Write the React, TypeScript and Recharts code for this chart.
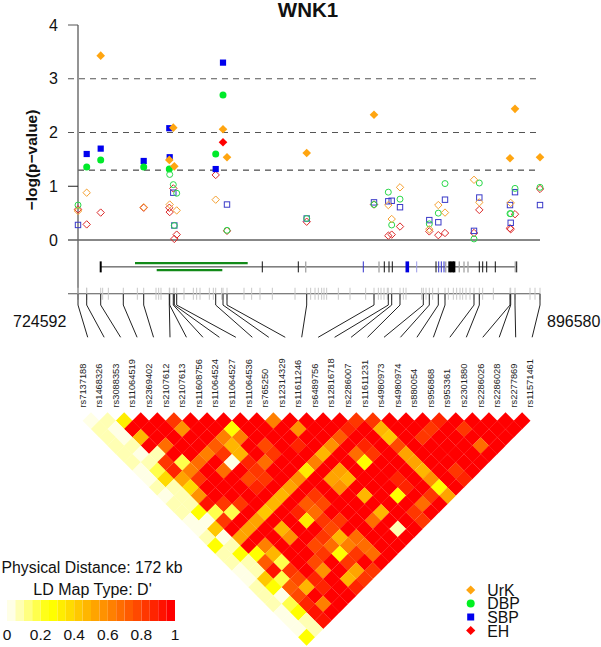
import React from 'react';
import { ScatterChart, Scatter, XAxis, YAxis, ReferenceLine, BarChart, Bar } from 'recharts';

const FONT = '"Liberation Sans", Arial, sans-serif';

const rsLabels = ['rs7137188','rs1468326','rs3088353','rs11064519','rs2369402','rs2107612','rs2107613','rs11608756','rs11064524','rs11064527','rs11064536','rs765250','rs12314329','rs11611246','rs6489756','rs12816718','rs2286007','rs11611231','rs4980973','rs4980974','rs880054','rs956868','rs953361','rs2301880','rs2286026','rs2286028','rs2277869','rs11571461'];
const snpBp = [724592,727831,733043,741456,749050,758580,758729,760069,760442,761335,775854,778571,780060,809730,834784,840108,841373,844463,853137,855371,858721,861215,872011,873984,885413,885673,887274,896580];

const urkValues = [0.54,0.88,3.43,null,0.61,1.49,0.66,2.09,1.37,0.55,0.75,2.06,1.54,1.62,2.33,0.65,0.39,0.98,null,0.2,0.65,0.51,1.12,0.7,1.52,0.69,2.44,1.54];
const dbpValues = [0.65,1.36,1.49,null,1.36,1.32,1.22,1.03,0.27,0.87,1.6,2.7,0.18,0.4,0.66,0.89,0.28,0.76,null,0.3,0.5,1.05,0.02,1.06,0.49,0.49,0.96,0.98];
const sbpValues = [0.28,1.6,1.7,null,1.47,2.08,1.54,0.88,0.27,null,1.32,3.3,0.66,0.4,0.7,0.72,0.73,0.61,null,0.37,0.33,0.75,0.17,0.79,0.65,0.32,0.89,0.65];
const ehValues = [0.57,0.29,0.51,null,0.6,0.6,0.52,0.96,0.02,0.1,1.21,1.82,0.17,0.34,0.66,0.08,0.1,0.25,null,0.16,0.09,0.13,0.13,0.56,0.22,0.2,0.48,0.95];

const SIGNIFICANT = 1.3;
const mapStartBp = 724592;
const mapEndBp = 896580;
const axisStubBp = 720869;
const yGridLines = [3, 2];
const yTickValues = [0, 1, 2, 3, 4];

const geneStartBp = 733043;
const geneEndBp = 887907;
const transcriptA = [745811, 787766];
const transcriptB = [753890, 778311];
const exonBlack = [793202,806603,838619,840368,841596,857865,873984,875250,876739,879941,887907];
const exonThick = [862816,863449,864193,864700,733043];
const exonGray = [809358,836645,861476,866539,868288,869777,887386];
const exonBlue = [830800,858870,859838,860843];
const exonPaleBlue = [850680];
const exonBlueThick = [847182];
const rugBp = [727818,733775,735884,746680,753629,754622,755490,764053,767527,768768,770009,773483,774973,778075,786389,789243,792345,796936,805375,811207,812820,814061,815302,816170,817163,821506,825849,831682,836397,837390,838507,839748,845704,846697,852529,854142,856624,862456,864317,865558,866799,867792,869033,870522,875237,879208,892858,894719];

// D' values under 1 for each LD row; row n holds pairs n+1 SNPs apart; keys = left SNP index.
const ldBelowOne: Record<number, number>[] = [
  {0:.03,1:.1,2:.28,5:.8,11:.6,16:.8,17:.8,21:.9},
  {0:.1,1:.03,5:.55,8:.22,12:.55,15:.9,17:.45,20:.8,22:.8},
  {0:.1,1:.06,2:.45,7:.6,8:.6,14:.72,17:.35,19:.8},
  {0:.1,1:.1,3:.65,6:.7,7:.4,9:.75,11:.9,13:.55,15:.9,17:.75,22:.65},
  {0:.1,1:.05,2:.1,5:.6,6:.8,7:.45,9:.85,12:.45,14:.65,15:.85,17:.5},
  {0:.1,1:.1,2:.8,3:.15,4:.65,6:.03,7:.9,8:.65,11:.6,14:.2,17:.5},
  {0:.05,1:.15,2:.9,3:.6,5:.65,7:.85,10:.25,12:.5,17:.4,19:.8},
  {0:.03,1:.3,2:.5,3:.8,6:.75,7:.85,9:.55,11:.5,12:.4,15:.9,17:.55,19:.9},
  {0:.1,1:.1,2:.3,6:.9,8:.5,11:.55,15:.9,17:.2},
  {0:.05,1:.1,2:.55,7:.45,9:.8,12:.4,14:.2,16:.85,17:.5},
  {0:.1,1:.1,2:.95,3:.85,4:.85,6:.4,8:.7,9:.75,15:.65},
  {0:.1,1:.2,2:.15,3:.15,5:.35,7:.9,8:.65,12:.4,14:.8},
  {0:.06,1:.05,2:.85,4:.5,7:.25,8:.85,9:.8,11:.65,14:.85},
  {0:.05,1:.35,3:.5,5:.4,8:.75,12:.1},
  {0:.1,1:.08,2:.5,5:.55,7:.8,8:.4,9:.65},
  {0:.2,1:.1,3:.6,6:.75,7:.65,8:.6,9:.65},
  {0:.1,1:.2,2:.2,3:.45,6:.85,7:.22,8:.85,9:.65},
  {0:.1,1:.1,2:.7,3:.15,5:.75,7:.85},
  {0:.08,1:.1,2:.95,3:.8,5:.55,7:.5,8:.8},
  {0:.08,1:.35,2:.15,3:.75,4:.9,6:.4,7:.85},
  {0:.1,1:.2,2:.7,3:.4,4:.9,6:.9},
  {0:.1,1:.03,2:.75},
  {0:.1,1:.15,2:.9,3:.6},
  {0:.08,1:.2,2:.95},
  {0:.08,1:.1,2:.95},
  {0:.08,1:.1},
  {0:.22},
];

const legendTicks = [0, 0.2, 0.4, 0.6, 0.8, 1];
const legendLevels = Array.from({ length: 20 }, (_, i) => i);
const traitNames = ['UrK', 'DBP', 'SBP', 'EH'];

function levelColor(level: number) {
  if (level < 5) {
    const s = 0.1 + 0.2 * level;
    const b = Math.round(255 * (1 - s));
    return `rgb(255,255,${b})`;
  }
  const g = Math.round((255 * (19 - level)) / 14);
  return `rgb(255,${g},0)`;
}
function ldColor(v: number) {
  if (v >= 1) return levelColor(19);
  if (v < 0.2) return levelColor(v < 0.09 ? 0 : v <= 0.1 ? 1 : v <= 0.15 ? 3 : 4);
  return levelColor(Math.min(19, Math.round(5 + ((v - 0.2) / 0.8) * 14)));
}

const ldCells = ldBelowOne.flatMap((row, depth) =>
  Array.from({ length: 27 - depth }, (_, i) => {
    const v = row[i] === undefined ? 1 : row[i];
    return { pos: i + (depth + 1) / 2, depth, v };
  })
);

const toPoints = (values: (number | null)[]) =>
  values.flatMap((v, i) => (v === null ? [] : [{ bp: snpBp[i], y: v }]));
const rugPoints = (list: number[], y: number) => list.map((bp) => ({ bp, y }));

const GOLD = '#ffa510';
const GREEN = '#00ea2a';
const BLUE = '#0000ee';
const RED = '#ff0000';

function Diamond({ cx, cy, r, fill, stroke }: any) {
  return <polygon points={`${cx},${cy - r} ${cx + r},${cy} ${cx},${cy + r} ${cx - r},${cy}`} fill={fill} stroke={stroke} strokeWidth={stroke === 'none' ? 0 : 1} />;
}
const urkShape = (p: any) => p.payload.y >= SIGNIFICANT
  ? <Diamond cx={p.cx} cy={p.cy} r={4.3} fill={GOLD} stroke="none" />
  : <Diamond cx={p.cx} cy={p.cy} r={3.7} fill="none" stroke="#f5a030" />;
const ehShape = (p: any) => p.payload.y >= SIGNIFICANT
  ? <Diamond cx={p.cx} cy={p.cy} r={4.3} fill={RED} stroke="none" />
  : <Diamond cx={p.cx} cy={p.cy} r={3.7} fill="none" stroke="#dc2a2a" />;
const dbpShape = (p: any) => p.payload.y >= SIGNIFICANT
  ? <circle cx={p.cx} cy={p.cy} r={3.5} fill={GREEN} />
  : <circle cx={p.cx} cy={p.cy} r={3} fill="none" stroke="#2bd84a" strokeWidth={1} />;
const sbpShape = (p: any) => p.payload.y >= SIGNIFICANT
  ? <rect x={p.cx - 3.1} y={p.cy - 3.1} width={6.2} height={6.2} fill={BLUE} />
  : <rect x={p.cx - 2.7} y={p.cy - 2.7} width={5.4} height={5.4} fill="none" stroke="#3a3ac8" strokeWidth={1} />;

const tick = (color: string, half: number, width: number) => (p: any) => (
  <line x1={p.cx} x2={p.cx} y1={p.cy - half} y2={p.cy + half} stroke={color} strokeWidth={width} />
);
const cellShape = (p: any) => (
  <polygon
    points={`${p.cx},${p.cy - 8.45} ${p.cx + 8.4},${p.cy} ${p.cx},${p.cy + 8.45} ${p.cx - 8.4},${p.cy}`}
    fill={ldColor(p.payload.v)}
  />
);

const ELBOW = -1.21;
const LABEL_END = -1.81;
const slotBp = (i: number) => 728203 + 6128 * i;

const box = (top: number, left = 0): React.CSSProperties => ({ position: 'absolute', top, left });

function TopPanel() {
  return (
    <ScatterChart width={601} height={345} margin={{ top: 25, right: 61, bottom: 2.875, left: 0 }}>
      <XAxis type="number" dataKey="bp" domain={[axisStubBp, mapEndBp]} hide />
      <YAxis
        type="number"
        dataKey="y"
        width={68}
        domain={[-1.9, 4]}
        ticks={yTickValues}
        axisLine={false}
        tickLine={false}
        tickSize={0}
        tickMargin={10}
        interval={0}
        tick={{ fontFamily: FONT, fontSize: 16, fill: '#111' }}
      />
      {yGridLines.map((y) => (
        <ReferenceLine key={y} y={y} stroke="#555" strokeWidth={1} strokeDasharray="6 5" />
      ))}
      <ReferenceLine segment={[{ x: mapStartBp, y: SIGNIFICANT }, { x: mapEndBp, y: SIGNIFICANT }]} stroke="#222" strokeWidth={1} strokeDasharray="6 5" />
      <ReferenceLine y={0} stroke="#111" strokeWidth={1} />
      <ReferenceLine y={-1} stroke="#555" strokeWidth={1.2} />
      <ReferenceLine segment={[{ x: mapStartBp, y: -1 }, { x: mapStartBp, y: 4 }]} stroke="#666" strokeWidth={1.4} />
      <ReferenceLine segment={[{ x: axisStubBp, y: 4 }, { x: mapStartBp, y: 4 }]} stroke="#555" strokeWidth={1} />
      <ReferenceLine segment={[{ x: axisStubBp, y: 1 }, { x: mapStartBp, y: 1 }]} stroke="#222" strokeWidth={1} />

      <Scatter data={rugPoints(rugBp, -1)} shape={tick('#c8c8c8', 6, 1)} isAnimationActive={false} />
      <Scatter data={rugPoints(snpBp, -1)} shape={tick('#c8c8c8', 6, 1)} isAnimationActive={false} />

      <ReferenceLine segment={[{ x: geneStartBp, y: -0.5 }, { x: geneEndBp, y: -0.5 }]} stroke="#333" strokeWidth={1} />
      <ReferenceLine segment={[{ x: transcriptA[0], y: -0.43 }, { x: transcriptA[1], y: -0.43 }]} stroke="#128a18" strokeWidth={2.4} />
      <ReferenceLine segment={[{ x: transcriptB[0], y: -0.56 }, { x: transcriptB[1], y: -0.56 }]} stroke="#128a18" strokeWidth={2.4} />
      <Scatter data={rugPoints(exonGray, -0.5)} shape={tick('#aaaaaa', 5.5, 1.4)} isAnimationActive={false} />
      <Scatter data={rugPoints(exonBlack, -0.5)} shape={tick('#111', 5.5, 1)} isAnimationActive={false} />
      <Scatter data={rugPoints(exonThick, -0.5)} shape={tick('#000', 5.5, 2)} isAnimationActive={false} />
      <Scatter data={rugPoints(exonBlue, -0.5)} shape={tick('#3030cc', 5.5, 1)} isAnimationActive={false} />
      <Scatter data={rugPoints(exonPaleBlue, -0.5)} shape={tick('#9a9ae8', 5.5, 1)} isAnimationActive={false} />
      <Scatter data={rugPoints(exonBlueThick, -0.5)} shape={tick('#0000e0', 5.5, 3.6)} isAnimationActive={false} />

      {snpBp.map((bp, i) => (
        <Scatter
          key={rsLabels[i]}
          data={[{ bp, y: -1 }, { bp, y: ELBOW }, { bp: slotBp(i), y: LABEL_END }]}
          line={{ stroke: '#222', strokeWidth: 1 }}
          shape={() => <g />}
          isAnimationActive={false}
        />
      ))}

      <Scatter name="EH" data={toPoints(ehValues)} shape={ehShape} isAnimationActive={false} />
      <Scatter name="SBP" data={toPoints(sbpValues)} shape={sbpShape} isAnimationActive={false} />
      <Scatter name="DBP" data={toPoints(dbpValues)} shape={dbpShape} isAnimationActive={false} />
      <Scatter name="UrK" data={toPoints(urkValues)} shape={urkShape} isAnimationActive={false} />
    </ScatterChart>
  );
}

function LdPanel() {
  return (
    <ScatterChart width={601} height={647} margin={{ top: 380.7, right: 70.6, bottom: 9.7, left: 82.7 }}>
      <XAxis
        type="number"
        dataKey="pos"
        orientation="top"
        height={40}
        domain={[0, 27]}
        ticks={rsLabels.map((_, i) => i)}
        interval={0}
        axisLine={false}
        tickLine={false}
        tick={(p: any) => (
          <text
            x={p.x + 3}
            y={407.5}
            transform={`rotate(-90 ${p.x + 3} 407.5)`}
            fontFamily={FONT}
            fontSize={9.3}
            fill="#222"
            textAnchor="start"
          >
            {rsLabels[p.payload.value]}
          </text>
        )}
      />
      <YAxis type="number" dataKey="depth" domain={[0, 26]} reversed hide />
      <Scatter data={ldCells} shape={cellShape} isAnimationActive={false} />
    </ScatterChart>
  );
}

function LegendBar() {
  const row: Record<string, number> = { name: 0 };
  legendLevels.forEach((l) => { row[`s${l}`] = 0.05; });
  return (
    <BarChart width={190} height={45} layout="vertical" data={[row]} barCategoryGap={0} margin={{ top: 0, right: 15, bottom: 0, left: 7 }}>
      <XAxis
        type="number"
        domain={[0, 1]}
        ticks={legendTicks}
        interval={0}
        height={24}
        axisLine={false}
        tickLine={false}
        tickMargin={2}
        tick={{ fontFamily: FONT, fontSize: 15.5, fill: '#111' }}
      />
      <YAxis type="category" dataKey="name" hide />
      {legendLevels.map((l) => (
        <Bar key={l} dataKey={`s${l}`} stackId="scale" fill={levelColor(l)} isAnimationActive={false} />
      ))}
    </BarChart>
  );
}

const T = (props: any) => <text fontFamily={FONT} fill="#111" {...props} />;

function Overlay() {
  const ys = [590, 603.4, 617, 630.5];
  const x = 470.7;
  return (
    <svg width={601} height={647} style={{ position: 'absolute', top: 0, left: 0, pointerEvents: 'none' }}>
      <T x={308} y={17} fontSize={20.5} fontWeight="bold" textAnchor="middle">WNK1</T>
      <T x={37} y={160} fontSize={15.5} fontWeight="bold" textAnchor="middle" transform="rotate(-90 37 160)">−log(p−value)</T>
      <T x={13} y={327} fontSize={16}>{String(mapStartBp)}</T>
      <T x={547} y={327} fontSize={16}>{String(mapEndBp)}</T>
      <T x={92} y={573} fontSize={15.8} textAnchor="middle">Physical Distance: 172 kb</T>
      <T x={92.5} y={595} fontSize={16} textAnchor="middle">LD Map Type: D'</T>
      <Diamond cx={x} cy={ys[0]} r={4.6} fill={GOLD} stroke="none" />
      <circle cx={x} cy={ys[1]} r={4} fill="#00f020" />
      <rect x={x - 3.5} y={ys[2] - 3.5} width={7} height={7} fill={BLUE} />
      <Diamond cx={x} cy={ys[3]} r={4.6} fill={RED} stroke="none" />
      {traitNames.map((n, i) => (
        <T key={n} x={487.3} y={ys[i] + 6} fontSize={15.8}>{n}</T>
      ))}
    </svg>
  );
}

export default function App() {
  return (
    <div style={{ position: 'absolute', top: 0, left: 0, width: 601, height: 647, overflow: 'hidden', background: '#fff' }}>
      <div style={box(0)}><LdPanel /></div>
      <div style={box(0)}><TopPanel /></div>
      <div style={box(600)}><LegendBar /></div>
      <Overlay />
    </div>
  );
}
